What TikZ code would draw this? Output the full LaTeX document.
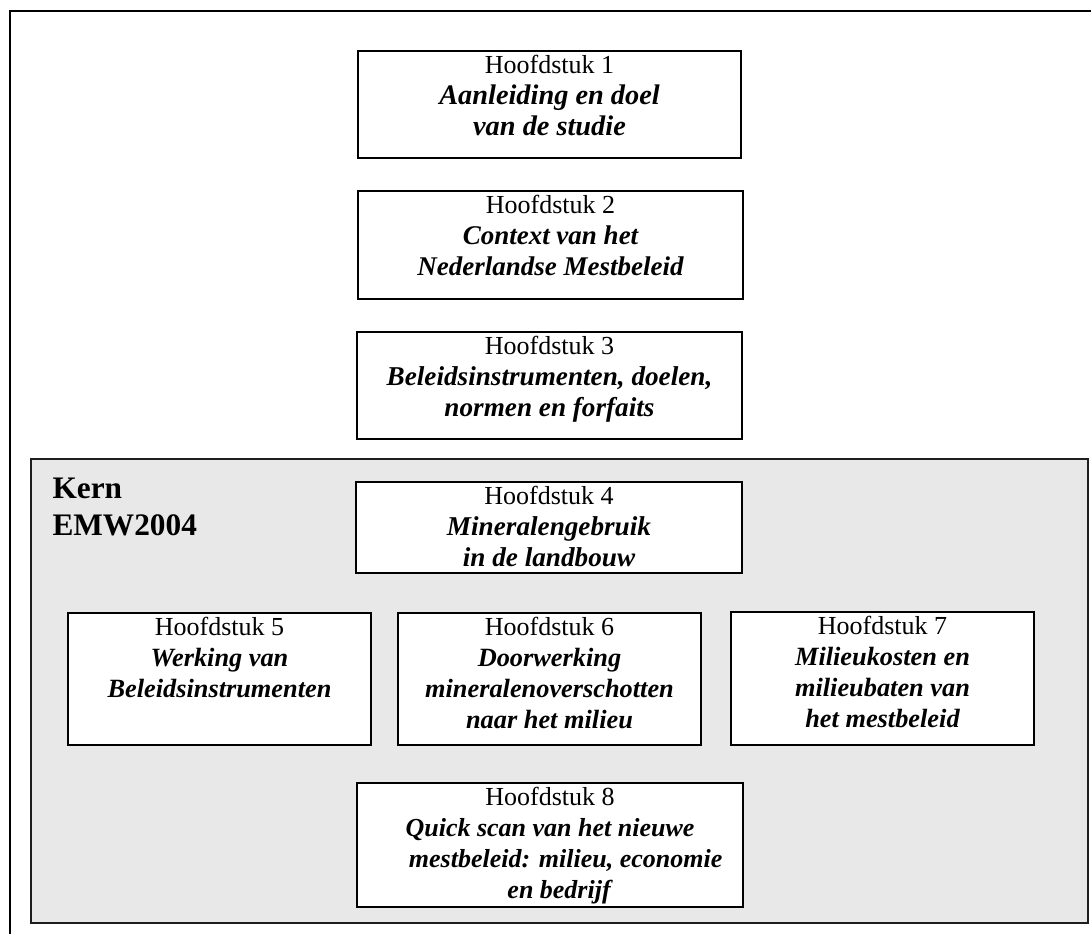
\documentclass[tikz,border=0pt]{standalone}
\usepackage{fontspec}
\setmainfont{Liberation Serif}
\usetikzlibrary{positioning}

\newcommand{\hfdtitle}[2][19.75]{{\fontsize{#1}{23.25}\selectfont\bfseries\itshape #2}}

\tikzset{every picture/.style={line width=0.75pt}}
\tikzset{
  hfdbox/.style={draw, fill=white, line width=1.5pt, anchor=north west, inner sep=0pt},
  hfdtext/.style={anchor=north, inner sep=0pt, align=center, font=\fontsize{19.5}{23.25}\selectfont},
  kernarea/.style={draw={rgb, 255:red, 30; green, 30; blue, 30}, fill={rgb, 255:red, 232; green, 232; blue, 232}, line width=1.5pt, anchor=north west, inner sep=0pt},
}

\begin{document}
\begin{tikzpicture}[x=0.75pt,y=0.75pt,yscale=-1,xscale=1]
        \useasboundingbox (0,0) rectangle (1091,934);

        %Outer frame (cut off right and bottom)
        \draw [line width=1.5pt] (1091,11) -- (9.5,11) -- (9.5,934) ;

        %Kern area
        \node [kernarea, minimum width=792.75pt, minimum height=348pt] (kern) at (30,458) {};
        % Text Node
        \node [anchor=north west, inner sep=0pt, align=left, font=\fontsize{23.5}{27.75}\selectfont\bfseries] (kernlabel) at (52,477) {Kern\\EMW2004};

        %Hoofdstuk 1
        \node [hfdbox, minimum width=287.25pt, minimum height=80.25pt] (h1) at (357,50) {};
        \node [hfdtext, below=3.75pt of h1.north] (t1) {Hoofdstuk 1\\\hfdtitle[21.25]{Aanleiding en doel}\\\hfdtitle[21.25]{van de studie}};
        %Hoofdstuk 2
        \node [hfdbox, minimum width=288.75pt, minimum height=81pt] (h2) at (357,190) {};
        \node [hfdtext, below=3.75pt of h2.north] (t2) {Hoofdstuk 2\\\hfdtitle[20.25]{Context van het}\\\hfdtitle[20.25]{Nederlandse Mestbeleid}};
        %Hoofdstuk 3
        \node [hfdbox, minimum width=288.75pt, minimum height=80.25pt] (h3) at (356,331) {};
        \node [hfdtext, below=3.75pt of h3.north] (t3) {Hoofdstuk 3\\\hfdtitle[20.4]{Beleidsinstrumenten, doelen,}\\\hfdtitle[20.4]{normen en forfaits}};
        %Hoofdstuk 4
        \node [hfdbox, minimum width=289.5pt, minimum height=68.25pt] (h4) at (355,481) {};
        \node [hfdtext, below=3.75pt of h4.north] (t4) {Hoofdstuk 4\\\hfdtitle[20.4]{Mineralengebruik}\\\hfdtitle[20.4]{in de landbouw}};
        %Hoofdstuk 5
        \node [hfdbox, minimum width=227.25pt, minimum height=99pt] (h5) at (67,612) {};
        \node [hfdtext, below=3.75pt of h5.north] (t5) {Hoofdstuk 5\\\hfdtitle{Werking van}\\\hfdtitle{Beleidsinstrumenten}};
        %Hoofdstuk 6
        \node [hfdbox, minimum width=227.25pt, minimum height=99pt] (h6) at (397,612) {};
        \node [hfdtext, below=3.75pt of h6.north] (t6) {Hoofdstuk 6\\\hfdtitle{Doorwerking}\\\hfdtitle{mineralenoverschotten}\\\hfdtitle{naar het milieu}};
        %Hoofdstuk 7
        \node [hfdbox, minimum width=227.25pt, minimum height=99.75pt] (h7) at (730,611) {};
        \node [hfdtext, below=3.75pt of h7.north] (t7) {Hoofdstuk 7\\\hfdtitle{Milieukosten en}\\\hfdtitle{milieubaten van}\\\hfdtitle{het mestbeleid}};
        %Hoofdstuk 8
        \node [hfdbox, minimum width=289.5pt, minimum height=93pt] (h8) at (356,782) {};
        \node [hfdtext, below=3.75pt of h8.north] (t8) {Hoofdstuk 8\\\hfdtitle[19.5]{Quick scan van het nieuwe}\\\hspace*{1.2em}\hfdtitle[19.5]{mestbeleid: milieu, economie}\\\hspace*{0.7em}\hfdtitle[19.5]{en bedrijf}};

    \end{tikzpicture}
\end{document}
